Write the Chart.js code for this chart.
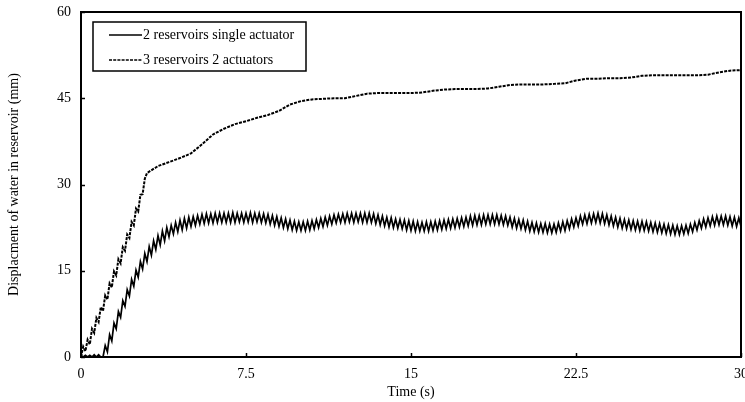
<!DOCTYPE html>
<html>
<head>
<meta charset="utf-8">
<script src="https://cdn.jsdelivr.net/npm/chart.js@4.4.1/dist/chart.umd.min.js"></script>
<style>
  html, body { margin: 0; padding: 0; background: #fff; }
  #wrap { width: 745px; height: 402px; }
</style>
</head>
<body>
<div id="wrap"><canvas id="chart" width="745" height="402"></canvas></div>
<script>
// axis ticks
const xTicks = [0, 7.5, 15, 22.5, 30];
const yTicks = [0, 15, 30, 45, 60];

// 2 reservoirs single actuator: sampled every 0.1 s, one row per second
const SAMPLE_STEP_S = 0.1;
const singleActuatorMm = [
  0.2, 0.0, 0.3, 0.0, 0.3, 0.0, 0.4, 0.0, 0.4, 0.0,            // 0 s
  0.0, 2.0, 0.9, 3.9, 2.8, 5.9, 4.9, 7.9, 6.9, 9.8,            // 1 s
  8.8, 11.7, 10.6, 13.5, 12.3, 15.1, 13.9, 16.6, 15.3, 18.0,   // 2 s
  16.6, 19.2, 17.7, 20.2, 18.7, 21.1, 19.5, 21.9, 20.2, 22.5,  // 3 s
  20.9, 22.9, 21.4, 23.4, 21.8, 23.8, 22.1, 24.1, 22.4, 24.3,  // 4 s
  22.7, 24.4, 22.9, 24.6, 23.1, 24.8, 23.2, 24.9, 23.3, 24.9,  // 5 s
  23.3, 25.0, 23.4, 25.0, 23.4, 25.0, 23.4, 25.0, 23.4, 25.1,  // 6 s
  23.4, 25.0, 23.5, 25.0, 23.4, 25.0, 23.5, 25.1, 23.4, 25.0,  // 7 s
  23.5, 25.0, 23.4, 24.9, 23.3, 24.8, 23.1, 24.6, 22.9, 24.4,  // 8 s
  22.7, 24.2, 22.5, 24.0, 22.3, 23.8, 22.1, 23.6, 22.0, 23.5,  // 9 s
  22.0, 23.5, 22.0, 23.6, 22.1, 23.7, 22.3, 23.9, 22.5, 24.1,  // 10 s
  22.7, 24.3, 22.9, 24.5, 23.1, 24.7, 23.3, 24.8, 23.4, 24.9,  // 11 s
  23.4, 25.0, 23.5, 25.0, 23.4, 25.0, 23.5, 25.0, 23.4, 25.0,  // 12 s
  23.4, 25.0, 23.4, 24.9, 23.2, 24.7, 23.0, 24.5, 22.8, 24.3,  // 13 s
  22.6, 24.2, 22.5, 24.0, 22.4, 23.9, 22.3, 23.8, 22.1, 23.7,  // 14 s
  22.0, 23.6, 21.9, 23.5, 21.9, 23.4, 21.9, 23.5, 21.9, 23.5,  // 15 s
  22.0, 23.6, 22.1, 23.7, 22.2, 23.8, 22.3, 23.9, 22.4, 24.0,  // 16 s
  22.5, 24.1, 22.6, 24.2, 22.7, 24.3, 22.8, 24.5, 22.9, 24.6,  // 17 s
  23.0, 24.6, 23.0, 24.7, 23.1, 24.7, 23.1, 24.7, 23.1, 24.7,  // 18 s
  23.1, 24.6, 23.0, 24.5, 22.9, 24.3, 22.6, 24.1, 22.4, 23.9,  // 19 s
  22.3, 23.8, 22.1, 23.6, 21.9, 23.4, 21.8, 23.3, 21.7, 23.2,  // 20 s
  21.7, 23.2, 21.6, 23.1, 21.6, 23.1, 21.7, 23.3, 21.9, 23.5,  // 21 s
  22.0, 23.7, 22.3, 24.0, 22.6, 24.2, 22.8, 24.5, 23.1, 24.7,  // 22 s
  23.2, 24.8, 23.3, 24.9, 23.4, 25.0, 23.3, 24.9, 23.2, 24.7,  // 23 s
  23.0, 24.5, 22.8, 24.3, 22.6, 24.1, 22.4, 23.9, 22.3, 23.8,  // 24 s
  22.2, 23.7, 22.1, 23.6, 22.0, 23.6, 22.0, 23.5, 21.9, 23.4,  // 25 s
  21.8, 23.3, 21.7, 23.2, 21.6, 23.1, 21.5, 23.0, 21.4, 22.9,  // 26 s
  21.3, 22.8, 21.3, 22.8, 21.4, 22.9, 21.5, 23.1, 21.8, 23.4,  // 27 s
  22.1, 23.7, 22.4, 24.0, 22.6, 24.2, 22.8, 24.4, 22.9, 24.5,  // 28 s
  23.0, 24.5, 23.0, 24.5, 22.9, 24.4, 22.8, 24.3, 22.7, 24.2,  // 29 s
  22.7                                                         // 30 s
];

// 3 reservoirs 2 actuators
const twoActuatorTimes = [
  0.0, 0.1, 0.2, 0.3, 0.4, 0.5, 0.6, 0.7, 0.8, 0.9,
  1.0, 1.1, 1.2, 1.3, 1.4, 1.5, 1.6, 1.7, 1.8, 1.9,
  2.0, 2.1, 2.2, 2.3, 2.4, 2.5, 2.6, 2.7, 2.8, 2.9, 3.0,
  3.5, 4.0, 4.5, 5.0, 5.5, 6.0, 6.5, 7.0, 7.5, 8.0, 8.5, 9.0, 9.5,
  10.0, 10.5, 11.0, 11.5, 12.0, 12.5, 13.0, 13.5, 14.0, 14.5,
  15.0, 15.5, 16.0, 16.5, 17.0, 17.5, 18.0, 18.5, 19.0, 19.5,
  20.0, 20.5, 21.0, 21.5, 22.0, 22.5, 23.0, 23.5, 24.0, 24.5,
  25.0, 25.5, 26.0, 26.5, 27.0, 27.5, 28.0, 28.5, 29.0, 29.5, 30.0
];
const twoActuatorMm = [
  0.0, 1.8, 1.0, 3.0, 2.2, 4.9, 4.2, 6.8, 6.1, 8.7,
  8.0, 10.7, 10.0, 12.8, 12.1, 14.9, 14.2, 17.0, 16.3, 19.1,
  18.5, 21.3, 20.7, 23.5, 22.9, 25.8, 25.3, 28.2, 28.3, 31.0, 32.0,
  33.2, 33.9, 34.6, 35.4, 37.0, 38.7, 39.7, 40.5, 41.0, 41.6, 42.1, 42.8, 43.9,
  44.5, 44.8, 44.9, 45.0, 45.0, 45.4, 45.8, 45.9, 45.9, 45.9,
  45.9, 46.0, 46.3, 46.5, 46.6, 46.6, 46.6, 46.7, 47.0, 47.3,
  47.4, 47.4, 47.4, 47.5, 47.6, 48.1, 48.4, 48.4, 48.5, 48.5,
  48.6, 48.9, 49.0, 49.0, 49.0, 49.0, 49.0, 49.1, 49.5, 49.8, 49.9
];

const FONT = "'Liberation Serif', 'Times New Roman', serif";

// frame round the plot, inward tick marks and a boxed legend
const framePlugin = {
  id: 'frame',
  afterDatasetsDraw(chart) {
    const { ctx, chartArea: a, scales } = chart;
    ctx.save();
    ctx.strokeStyle = '#000';
    ctx.lineWidth = 1.5;
    scales.x.ticks.forEach(t => {
      const px = Math.round(scales.x.getPixelForValue(t.value)) + 0.5;
      ctx.beginPath(); ctx.moveTo(px, a.bottom); ctx.lineTo(px, a.bottom - 4); ctx.stroke();
    });
    scales.y.ticks.forEach(t => {
      const py = Math.round(scales.y.getPixelForValue(t.value)) + 0.5;
      ctx.beginPath(); ctx.moveTo(a.left, py); ctx.lineTo(a.left + 4, py); ctx.stroke();
    });
    ctx.lineWidth = 2;
    ctx.strokeRect(a.left, a.top, a.right - a.left, a.bottom - a.top);

    // legend
    const bx = a.left + 12, by = a.top + 10, bw = 213, bh = 49;
    ctx.fillStyle = '#fff';
    ctx.fillRect(bx, by, bw, bh);
    ctx.lineWidth = 1.5;
    ctx.strokeRect(bx, by, bw, bh);
    ctx.font = '14px ' + FONT;
    ctx.textBaseline = 'middle';
    ctx.fillStyle = '#000';
    chart.data.datasets.forEach((ds, i) => {
      const y = by + 13 + i * 25;
      ctx.lineWidth = 1.4;
      ctx.setLineDash(ds.borderDash || []);
      ctx.beginPath(); ctx.moveTo(bx + 16, y); ctx.lineTo(bx + 49, y); ctx.stroke();
      ctx.setLineDash([]);
      ctx.fillText(ds.label, bx + 50, y);
    });
    ctx.restore();
  }
};

new Chart(document.getElementById('chart'), {
  type: 'line',
  data: {
    datasets: [
      {
        label: '2 reservoirs single actuator',
        data: singleActuatorMm.map((v, i) => ({ x: i * SAMPLE_STEP_S, y: v })),
        borderColor: '#000',
        borderWidth: 1.7,
        pointRadius: 0,
        tension: 0
      },
      {
        label: '3 reservoirs 2 actuators',
        data: twoActuatorMm.map((v, i) => ({ x: twoActuatorTimes[i], y: v })),
        borderColor: '#000',
        borderWidth: 2,
        borderDash: [3, 1.2],
        pointRadius: 0,
        tension: 0
      }
    ]
  },
  options: {
    responsive: false,
    animation: false,
    layout: { padding: { top: 12, right: 4, left: 0, bottom: 0 } },
    plugins: { legend: { display: false }, tooltip: { enabled: false } },
    scales: {
      x: {
        type: 'linear',
        min: 0, max: 30,
        afterBuildTicks: s => { s.ticks = xTicks.map(v => ({ value: v })); },
        afterFit: s => { s.height = 45; s.paddingLeft = 0; s.paddingRight = 0; },
        grid: { display: false, drawTicks: false },
        border: { display: false },
        ticks: { color: '#000', padding: 9, maxRotation: 0, font: { family: FONT, size: 14 } },
        title: { display: true, text: 'Time (s)', color: '#000', padding: { top: 0, bottom: 1 }, font: { family: FONT, size: 14 } }
      },
      y: {
        min: 0, max: 60,
        afterBuildTicks: s => { s.ticks = yTicks.map(v => ({ value: v })); },
        afterFit: s => { s.width = 81; s.paddingTop = 0; s.paddingBottom = 0; },
        grid: { display: false, drawTicks: false },
        border: { display: false },
        ticks: { color: '#000', padding: 10, font: { family: FONT, size: 14 } },
        title: { display: true, text: 'Displacment of water in reservoir (mm)', color: '#000', padding: { top: 6, bottom: 0 }, font: { family: FONT, size: 14 } }
      }
    }
  },
  plugins: [framePlugin]
});
</script>
</body>
</html>
